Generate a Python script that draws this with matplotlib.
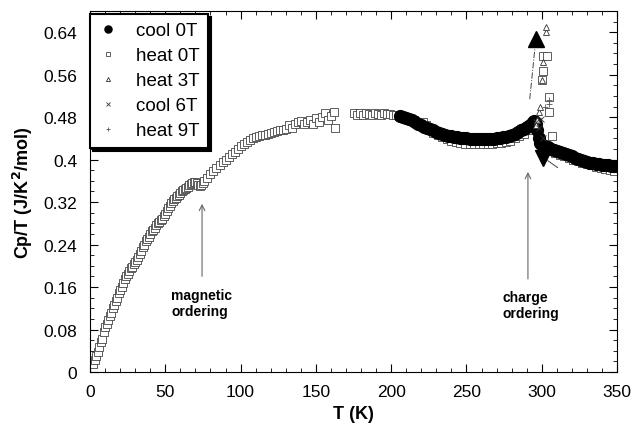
import numpy as np
import matplotlib
matplotlib.use("Agg")
import matplotlib.pyplot as plt
from matplotlib.ticker import MultipleLocator, FuncFormatter

plt.rcParams['font.family'] = ['Liberation Sans', 'DejaVu Sans']

# heat 0T (open squares)
heat0_T = [2, 3, 4, 5, 6, 7, 8, 9, 10, 11, 12, 13, 14, 15, 16, 17, 18, 19, 20,
           21, 22, 23, 24, 25, 26, 27, 28, 29, 30, 31, 32, 33, 34, 35, 36, 37, 38,
           39, 40, 41, 42, 43, 44, 45, 46, 47, 48, 49, 50, 51, 52, 53, 54, 55, 56,
           57, 58, 59, 60, 61, 62, 63, 64, 65, 66, 67, 68, 69, 70, 71, 72, 73, 74,
           75, 76, 78, 80, 82, 84, 86, 88, 90, 92, 94, 96, 98, 100, 102, 104, 106,
           108, 110, 112, 114, 116, 118, 120, 122, 124, 126, 128, 130, 132, 134,
           136, 138, 140, 142, 144, 146, 148, 150, 152, 154, 156, 158, 160, 162,
           163, 175, 177, 179, 181, 183, 185, 187, 189, 191, 193, 195, 197, 199,
           201, 203, 205, 207, 209, 211, 213, 215, 217, 219, 221, 223,
           225, 228, 231, 234, 237, 240, 243, 246, 249, 252, 255, 258, 261, 264,
           267, 270, 273, 276, 279, 282, 285, 288, 291, 294,
           297, 300, 300.5, 301, 303.5, 304.5, 305, 306.5,
           309, 312, 315, 318, 321, 324, 327, 330, 333, 336, 339, 342, 345, 348]
heat0_y = [0.015, 0.022, 0.03, 0.038, 0.048, 0.056, 0.063, 0.075, 0.085, 0.09,
           0.098, 0.105, 0.112, 0.12, 0.127, 0.133, 0.14, 0.148, 0.155, 0.16,
           0.168, 0.175, 0.18, 0.185, 0.19, 0.195, 0.198, 0.203, 0.207, 0.211,
           0.216, 0.222, 0.228, 0.235, 0.24, 0.246, 0.25, 0.255, 0.26, 0.265,
           0.268, 0.272, 0.276, 0.28, 0.283, 0.286, 0.289, 0.293, 0.298, 0.303,
           0.308, 0.313, 0.318, 0.322, 0.325, 0.328, 0.331, 0.334, 0.337, 0.34,
           0.342, 0.345, 0.347, 0.349, 0.352, 0.354, 0.356, 0.357, 0.358, 0.356,
           0.352, 0.35, 0.352, 0.356, 0.36, 0.366, 0.372, 0.378, 0.385, 0.39,
           0.395, 0.40, 0.405, 0.41, 0.415, 0.42, 0.425, 0.43, 0.433, 0.437,
           0.44, 0.442, 0.444, 0.446, 0.447, 0.449, 0.45, 0.452, 0.453, 0.455,
           0.455, 0.458, 0.465, 0.46, 0.468, 0.47, 0.472, 0.467, 0.47, 0.474,
           0.468, 0.478, 0.47, 0.48, 0.488, 0.475, 0.483, 0.49, 0.46,
           0.487, 0.485, 0.488, 0.484, 0.487, 0.486, 0.485, 0.487, 0.486, 0.485,
           0.487, 0.486, 0.486, 0.485, 0.484, 0.483, 0.482, 0.48, 0.478, 0.476,
           0.474, 0.47, 0.468, 0.47, 0.466,
           0.455, 0.45, 0.446, 0.442, 0.438, 0.436, 0.434, 0.432, 0.43, 0.43,
           0.429, 0.429, 0.429, 0.43, 0.43, 0.431, 0.432, 0.434, 0.436, 0.44,
           0.444, 0.448, 0.455, 0.462,
           0.47, 0.55, 0.567, 0.595, 0.595, 0.518, 0.49, 0.445,
           0.412, 0.409, 0.406, 0.403, 0.40, 0.397, 0.394, 0.391, 0.389, 0.386,
           0.384, 0.382, 0.38, 0.378]

# cool 0T (filled dots, dense band)
cool0_T = [206, 208, 210, 212, 214, 216, 218, 220, 222, 224, 226, 228, 230, 232,
           234, 236, 238, 240, 242, 244, 246, 248, 250, 252, 254, 256, 258, 260,
           262, 264, 266, 268, 270, 272, 274, 276, 278, 280, 282, 284, 286, 288,
           290, 292, 294, 295, 296, 297, 298, 299, 300, 302, 304, 306, 308, 310,
           312, 314, 316, 318, 320, 322, 324, 326, 328, 330, 332, 334, 336, 338,
           340, 342, 344, 346, 348, 350]
cool0_y = [0.482, 0.48, 0.478, 0.476, 0.474, 0.47, 0.467, 0.465, 0.462, 0.46,
           0.457, 0.455, 0.452, 0.45, 0.448, 0.446, 0.445, 0.444, 0.443, 0.442,
           0.441, 0.44, 0.44, 0.439, 0.439, 0.438, 0.438, 0.438, 0.438, 0.438,
           0.439, 0.439, 0.44, 0.441, 0.442, 0.443, 0.445, 0.447, 0.449, 0.452,
           0.455, 0.458, 0.462, 0.466, 0.47, 0.472, 0.468, 0.455, 0.44, 0.432,
           0.428, 0.426, 0.423, 0.42, 0.418, 0.416, 0.414, 0.412, 0.41, 0.408,
           0.406, 0.404, 0.402, 0.40, 0.398, 0.396, 0.394, 0.393, 0.392, 0.391,
           0.39, 0.389, 0.389, 0.388, 0.388, 0.388]

# heat 3T (open triangles)
heat3_T = [296, 297, 298, 299, 300, 301, 302.5, 303]
heat3_y = [0.465, 0.475, 0.49, 0.50, 0.55, 0.584, 0.64, 0.65]

# cool 6T (crosses)
cool6_T = [296, 298, 299.5, 301]
cool6_y = [0.47, 0.46, 0.476, 0.44]

# heat 9T (plus)
heat9_T = [302, 304.5, 305]
heat9_y = [0.50, 0.505, 0.512]

fig = plt.figure(figsize=(6.32, 4.31), dpi=100)
ax = fig.add_axes([0.1424, 0.1346, 0.834, 0.8376])

ax.plot(heat0_T, heat0_y, ls='none', marker='s', ms=5.5, mfc='white', mec='#444444',
        mew=0.6, zorder=2, label='heat 0T')
ax.plot(cool0_T, cool0_y, ls='none', marker='o', ms=8.5, color='black', zorder=3,
        label='cool 0T')
ax.plot(heat3_T, heat3_y, ls='none', marker='^', ms=5, mfc='white', mec='#333333',
        mew=0.6, zorder=4, label='heat 3T')
ax.plot(cool6_T, cool6_y, ls='none', marker='x', ms=5, color='#333333', mew=0.6,
        zorder=4, label='cool 6T')
ax.plot(heat9_T, heat9_y, ls='none', marker='+', ms=5, color='#555555', mew=0.6,
        zorder=4, label='heat 9T')

# heating / cooling direction arrows
ax.plot([292, 295.5], [0.514, 0.612], ls='-.', lw=0.7, color='#444444')
ax.plot([296], [0.627], marker='^', ms=11, color='black', ls='none')
ax.plot([310.5, 304], [0.385, 0.398], ls='-', lw=0.7, color='#444444')
ax.plot([300.5], [0.404], marker='v', ms=11, color='black', ls='none')

# transition annotations
ax.annotate('', xy=(74.4, 0.322), xytext=(74.4, 0.175),
            arrowprops=dict(arrowstyle='->', color='#666666', lw=0.8))
ax.text(53.8, 0.158, 'magnetic\nordering', fontsize=10, fontweight='bold',
        va='top', ha='left', linespacing=1.2)
ax.annotate('', xy=(290.8, 0.382), xytext=(290.8, 0.17),
            arrowprops=dict(arrowstyle='->', color='#666666', lw=0.8))
ax.text(274.2, 0.154, 'charge\nordering', fontsize=10, fontweight='bold',
        va='top', ha='left', linespacing=1.2)

ax.set_xlim(0, 350)
ax.set_ylim(0, 0.68)
ax.xaxis.set_major_locator(MultipleLocator(50))
ax.xaxis.set_minor_locator(MultipleLocator(10))
ax.yaxis.set_major_locator(MultipleLocator(0.08))
ax.yaxis.set_minor_locator(MultipleLocator(0.02))
ax.yaxis.set_major_formatter(FuncFormatter(lambda v, p: f"{v:g}"))
ax.tick_params(which='both', direction='in', top=True, right=True, labelsize=12.5)
ax.tick_params(which='major', length=6, width=0.8)
ax.tick_params(which='minor', length=3, width=0.6)
ax.tick_params(axis='y', pad=9)
ax.tick_params(axis='x', pad=9)
for s in ax.spines.values():
    s.set_linewidth(0.8)

ax.set_xlabel('T (K)', fontsize=13, fontweight='bold', labelpad=4)
ax.set_ylabel('Cp/T (J/K$^\\mathbf{2}$/mol)', fontsize=13, fontweight='bold', labelpad=6)

handles, labels = ax.get_legend_handles_labels()
order = [1, 0, 2, 3, 4]
leg = ax.legend([handles[i] for i in order], [labels[i] for i in order],
                loc='upper left', bbox_to_anchor=(0.0, 0.992), borderaxespad=0,
                fontsize=13.5, fancybox=False, framealpha=1, edgecolor='black',
                handlelength=1.0, handletextpad=1.0, labelspacing=0.42,
                borderpad=0.45, markerscale=0.6,
                shadow={'color': 'black', 'alpha': 1})
leg.get_frame().set_linewidth(1.5)

fig.savefig('out.png', dpi=100)
